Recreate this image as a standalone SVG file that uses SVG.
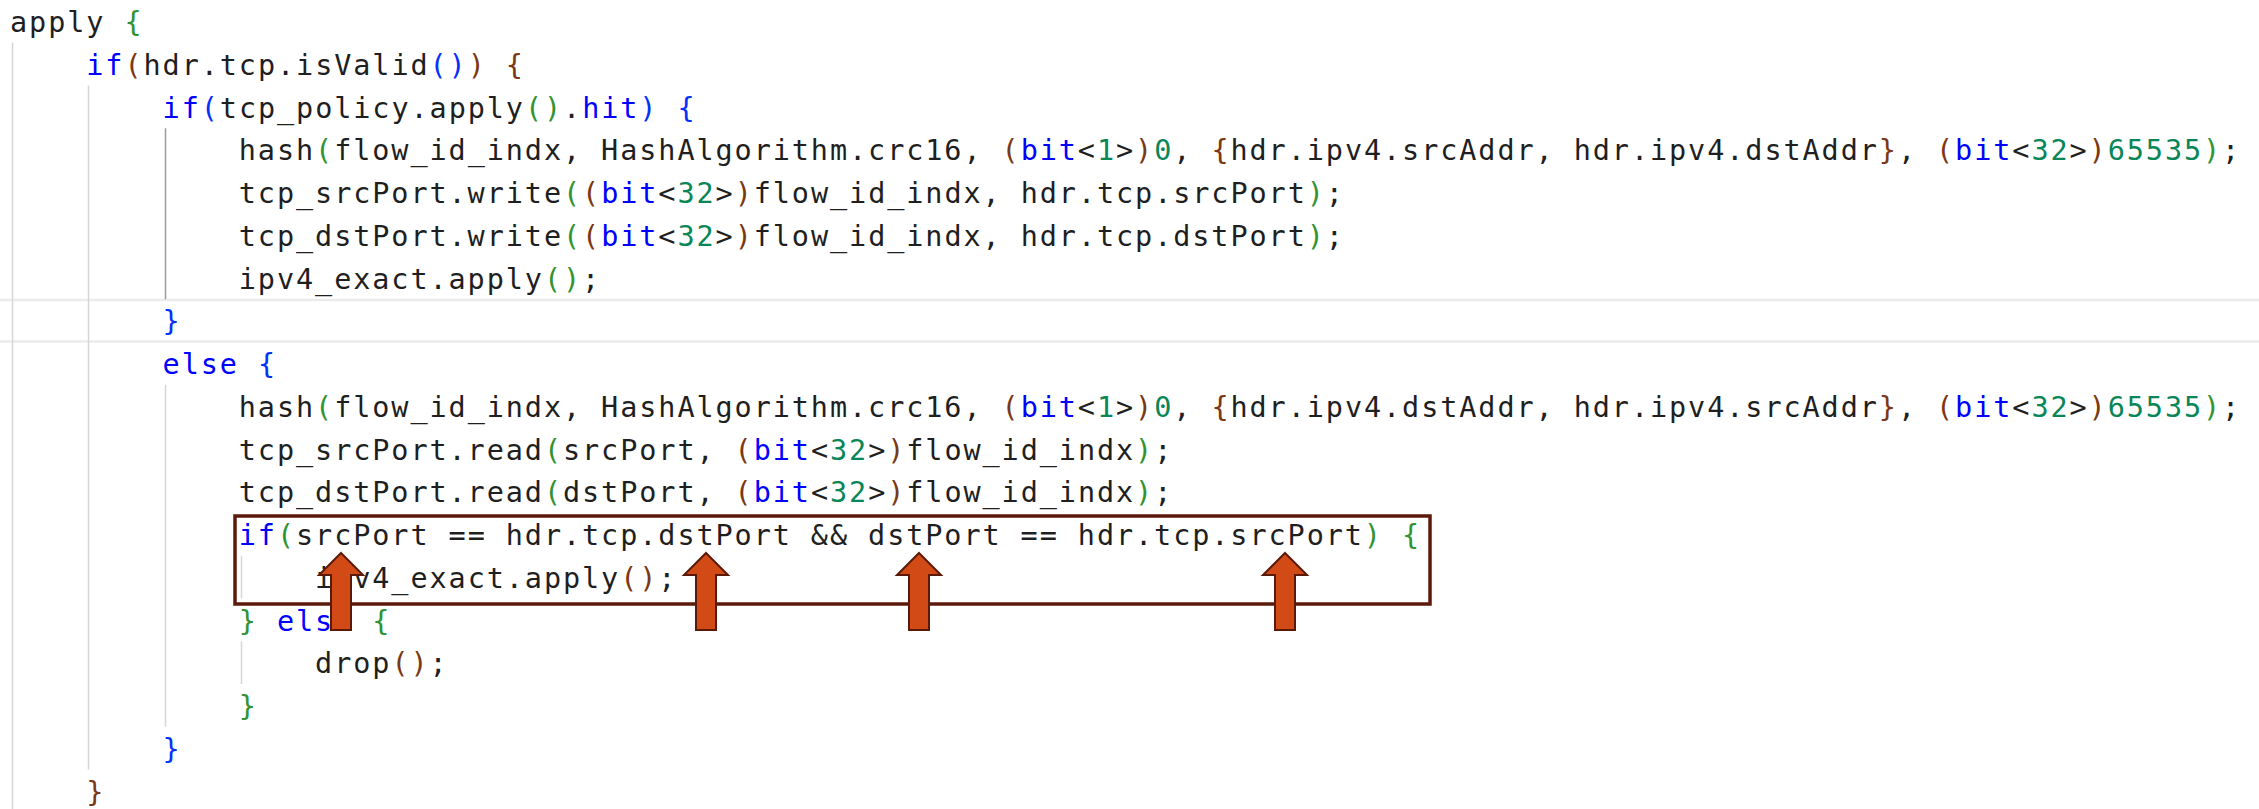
<svg xmlns="http://www.w3.org/2000/svg" width="2259" height="809" viewBox="0 0 2259 809">
<style>
text { font-family: "DejaVu Sans Mono", "Liberation Mono", monospace; font-size: 28.5px; letter-spacing: 1.91px; fill: #1f1f1f; white-space: pre; }
.k { fill: #0000ff; }
.n { fill: #098658; }
.b1 { fill: #0431fa; }
.b2 { fill: #319331; }
.b3 { fill: #7b3814; }
.guide { stroke: #d6d6d6; stroke-width: 1.5; }
.active { stroke: #9a9a9a; }
.arrow { fill: #d24b17; stroke: #5b1a08; stroke-width: 2; stroke-linejoin: miter; }
.box { fill: none; stroke: #5c1a0b; stroke-width: 3.5; }
</style>
<rect width="2259" height="809" fill="#ffffff"/>
<g id="current-line">
<rect x="-2" y="300" width="2263" height="41.5" fill="none" stroke="#ebebeb" stroke-width="2.5"/>
</g>
<g id="indent-guides">
<line class="guide" x1="12.5" y1="42.75" x2="12.5" y2="809"/>
<line class="guide" x1="88.5" y1="85.5" x2="88.5" y2="769.5"/>
<line class="guide active" x1="165.5" y1="128.25" x2="165.5" y2="299.25"/>
<line class="guide" x1="165.5" y1="384.75" x2="165.5" y2="726.75"/>
<line class="guide" x1="241.5" y1="555.75" x2="241.5" y2="598.5"/>
<line class="guide" x1="241.5" y1="641.25" x2="241.5" y2="684"/>
</g>
<g id="code">
<g id="line1"><text x="10" y="32">apply <tspan class="b2">{</tspan></text></g>
<g id="line2"><text x="86.3" y="74.75"><tspan class="k">if</tspan><tspan class="b3">(</tspan>hdr.tcp.isValid<tspan class="b1">()</tspan><tspan class="b3">)</tspan> <tspan class="b3">{</tspan></text></g>
<g id="line3"><text x="162.6" y="117.5"><tspan class="k">if</tspan><tspan class="b1">(</tspan>tcp_policy.apply<tspan class="b2">()</tspan>.<tspan class="k">hit</tspan><tspan class="b1">)</tspan> <tspan class="b1">{</tspan></text></g>
<g id="line4"><text x="238.8" y="160.25">hash<tspan class="b2">(</tspan>flow_id_indx, HashAlgorithm.crc16, <tspan class="b3">(</tspan><tspan class="k">bit</tspan>&lt;<tspan class="n">1</tspan>&gt;<tspan class="b3">)</tspan><tspan class="n">0</tspan>, <tspan class="b3">{</tspan>hdr.ipv4.srcAddr, hdr.ipv4.dstAddr<tspan class="b3">}</tspan>, <tspan class="b3">(</tspan><tspan class="k">bit</tspan>&lt;<tspan class="n">32</tspan>&gt;<tspan class="b3">)</tspan><tspan class="n">65535</tspan><tspan class="b2">)</tspan>;</text></g>
<g id="line5"><text x="238.8" y="203">tcp_srcPort.write<tspan class="b2">(</tspan><tspan class="b3">(</tspan><tspan class="k">bit</tspan>&lt;<tspan class="n">32</tspan>&gt;<tspan class="b3">)</tspan>flow_id_indx, hdr.tcp.srcPort<tspan class="b2">)</tspan>;</text></g>
<g id="line6"><text x="238.8" y="245.75">tcp_dstPort.write<tspan class="b2">(</tspan><tspan class="b3">(</tspan><tspan class="k">bit</tspan>&lt;<tspan class="n">32</tspan>&gt;<tspan class="b3">)</tspan>flow_id_indx, hdr.tcp.dstPort<tspan class="b2">)</tspan>;</text></g>
<g id="line7"><text x="238.8" y="288.5">ipv4_exact.apply<tspan class="b2">()</tspan>;</text></g>
<g id="line8"><text x="162.6" y="331.25"><tspan class="b1">}</tspan></text></g>
<g id="line9"><text x="162.6" y="374"><tspan class="k">else</tspan> <tspan class="b1">{</tspan></text></g>
<g id="line10"><text x="238.8" y="416.75">hash<tspan class="b2">(</tspan>flow_id_indx, HashAlgorithm.crc16, <tspan class="b3">(</tspan><tspan class="k">bit</tspan>&lt;<tspan class="n">1</tspan>&gt;<tspan class="b3">)</tspan><tspan class="n">0</tspan>, <tspan class="b3">{</tspan>hdr.ipv4.dstAddr, hdr.ipv4.srcAddr<tspan class="b3">}</tspan>, <tspan class="b3">(</tspan><tspan class="k">bit</tspan>&lt;<tspan class="n">32</tspan>&gt;<tspan class="b3">)</tspan><tspan class="n">65535</tspan><tspan class="b2">)</tspan>;</text></g>
<g id="line11"><text x="238.8" y="459.5">tcp_srcPort.read<tspan class="b2">(</tspan>srcPort, <tspan class="b3">(</tspan><tspan class="k">bit</tspan>&lt;<tspan class="n">32</tspan>&gt;<tspan class="b3">)</tspan>flow_id_indx<tspan class="b2">)</tspan>;</text></g>
<g id="line12"><text x="238.8" y="502.25">tcp_dstPort.read<tspan class="b2">(</tspan>dstPort, <tspan class="b3">(</tspan><tspan class="k">bit</tspan>&lt;<tspan class="n">32</tspan>&gt;<tspan class="b3">)</tspan>flow_id_indx<tspan class="b2">)</tspan>;</text></g>
<g id="line13"><text x="238.8" y="545"><tspan class="k">if</tspan><tspan class="b2">(</tspan>srcPort == hdr.tcp.dstPort &amp;&amp; dstPort == hdr.tcp.srcPort<tspan class="b2">)</tspan> <tspan class="b2">{</tspan></text></g>
<g id="line14"><text x="315.1" y="587.75">ipv4_exact.apply<tspan class="b3">()</tspan>;</text></g>
<g id="line15"><text x="238.8" y="630.5"><tspan class="b2">}</tspan> <tspan class="k">else</tspan> <tspan class="b2">{</tspan></text></g>
<g id="line16"><text x="315.1" y="673.25">drop<tspan class="b3">()</tspan>;</text></g>
<g id="line17"><text x="238.8" y="716"><tspan class="b2">}</tspan></text></g>
<g id="line18"><text x="162.6" y="758.75"><tspan class="b1">}</tspan></text></g>
<g id="line19"><text x="86.3" y="801.5"><tspan class="b3">}</tspan></text></g>
</g>
<g id="highlight-box">
<rect class="box" x="235" y="516" width="1195" height="88"/>
</g>
<g id="arrows">
<path id="arrow1" class="arrow" d="M341,553 L363,575 L351,575 L351,630 L331,630 L331,575 L319,575 Z"/>
<path id="arrow2" class="arrow" d="M706,553 L728,575 L716,575 L716,630 L696,630 L696,575 L684,575 Z"/>
<path id="arrow3" class="arrow" d="M919,553 L941,575 L929,575 L929,630 L909,630 L909,575 L897,575 Z"/>
<path id="arrow4" class="arrow" d="M1285,553 L1307,575 L1295,575 L1295,630 L1275,630 L1275,575 L1263,575 Z"/>
</g>
</svg>
